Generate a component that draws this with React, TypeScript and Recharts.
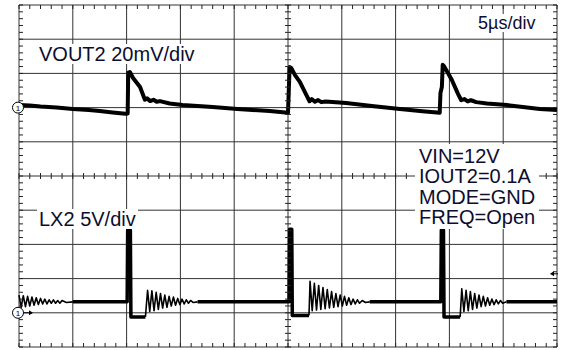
import React from "react";
import { ComposedChart, Line, Scatter, XAxis, YAxis, ReferenceLine } from "recharts";

// 5 us/div, 10 divisions across
const timeGrid = [0, 5, 10, 15, 20, 25, 30, 35, 40, 45, 50];
const divGrid = [0, 1, 2, 3, 4, 5, 6, 7, 8, 9, 10];

// VOUT2 ripple, [time us, mV], 20mV/div, ground marker at div 7
const vout2Points: [number, number][] = [
  [0, 1.5], [1, 1.2], [2, 0.6], [3.5, 0.1], [5, -0.8], [6.5, -1.4], [7.5, -2.0], [8.7, -2.8], [9.9, -3.6], [10.1, -3.4],
  [10.15, 20.5], [10.3, 20.8], [10.6, 17.3], [11.25, 12.0], [11.7, 4.6], [11.9, 5.4], [12.2, 3.8], [12.5, 4.6],
  [12.8, 3.4], [13.1, 3.8], [14, 2.4], [15.2, 1.5],
  [18, 0.4], [20.3, -0.8], [23.3, -2.0], [25.0, -3.0],
  [25.15, 23.7], [25.3, 23.2], [25.65, 19.0], [26.1, 15.0], [26.7, 7.4], [27.0, 3.7], [27.2, 5.0], [27.5, 3.4],
  [27.8, 4.4], [28.1, 3.2], [28.5, 3.6], [30.4, 2.7],
  [33, 0.8], [35.4, -0.8], [37.5, -2.1], [39.1, -3.0],
  [39.17, 8.6], [39.3, 12.0], [39.38, 25.0], [39.5, 24.2], [39.8, 21.0], [40.24, 16.0], [40.8, 8.0], [41.1, 4.3],
  [41.4, 5.0], [41.7, 3.6], [42.0, 4.3], [42.5, 3.2], [43.5, 2.4], [45.35, 1.5], [48.4, -0.8], [50, -1.4],
];

// LX2 switch node, [time us, V], 5V/div, ground marker at div 1
const lx2RingStart: [number, number][] = [
  [0, 2.6], [0.2, 0.8], [0.4, 2.5], [0.6, 0.9], [0.8, 2.4], [1.0, 1.0], [1.2, 2.3], [1.4, 1.1], [1.6, 2.2], [1.8, 1.2],
  [2.0, 2.1], [2.2, 1.3], [2.4, 2.0], [2.6, 1.3], [2.8, 1.9], [3.0, 1.4], [3.2, 1.9], [3.4, 1.4], [3.6, 1.8], [3.8, 1.4],
  [4.0, 1.8], [4.4, 1.5], [5, 1.6],
];
const lx2Switch1: [number, number][] = [
  [5, 1.6], [10.05, 1.6], [10.1, 12.1], [10.35, 12.1], [10.4, -0.6], [11.75, -0.6],
];
const lx2Ring1: [number, number][] = [
  [11.75, -0.6], [11.95, 3.3], [12.15, 0.2], [12.35, 3.2], [12.55, 0.3], [12.75, 3.0], [12.95, 0.5], [13.15, 2.8],
  [13.35, 0.7], [13.55, 2.6], [13.75, 0.8], [13.95, 2.4], [14.15, 1.0], [14.35, 2.3], [14.55, 1.1], [14.75, 2.1],
  [14.95, 1.2], [15.15, 2.0], [15.35, 1.3], [15.55, 1.9], [15.75, 1.4], [15.95, 1.8], [16.2, 1.5], [16.6, 1.6],
];
const lx2Switch2: [number, number][] = [
  [16.6, 1.6], [25.1, 1.6], [25.15, 12.2], [25.35, 12.2], [25.4, -0.4], [26.95, -0.4],
];
const lx2Ring2: [number, number][] = [
  [26.95, -0.4], [27.05, 4.6], [27.25, 0.3], [27.45, 4.3], [27.65, 0.4], [27.85, 4.0], [28.05, 0.5], [28.25, 3.7],
  [28.45, 0.6], [28.65, 3.4], [28.85, 0.7], [29.05, 3.1], [29.25, 0.8], [29.45, 2.8], [29.65, 0.9], [29.85, 2.6],
  [30.05, 1.0], [30.25, 2.4], [30.45, 1.1], [30.65, 2.2], [30.85, 1.2], [31.05, 2.0], [31.25, 1.3], [31.45, 1.9],
  [31.65, 1.4], [31.9, 1.8], [32.2, 1.5], [32.6, 1.6],
];
const lx2Switch3: [number, number][] = [
  [32.6, 1.6], [39.2, 1.6], [39.25, 12.1], [39.45, 12.1], [39.5, -0.6], [41.0, -0.6],
];
const lx2Ring3: [number, number][] = [
  [41.0, -0.6], [41.15, 3.5], [41.35, 0.2], [41.55, 3.3], [41.75, 0.3], [41.95, 3.1], [42.15, 0.5], [42.35, 2.8],
  [42.55, 0.7], [42.75, 2.6], [42.95, 0.9], [43.15, 2.4], [43.35, 1.0], [43.55, 2.2], [43.75, 1.1], [43.95, 2.0],
  [44.15, 1.2], [44.35, 1.9], [44.55, 1.3], [44.75, 1.8], [44.95, 1.4], [45.3, 1.6],
];
const lx2Idle: [number, number][] = [
  [45.3, 1.6], [50, 1.6],
];

const voutLabel = "VOUT2 20mV/div";
const lxLabel = "LX2 5V/div";
const scaleLabel = "5\u00b5s/div";
const conditions = ["VIN=12V", "IOUT2=0.1A", "MODE=GND", "FREQ=Open"];
const triggerLevel = 5.7; // V on LX2

const vout2Data = vout2Points.map(([t, mv]) => ({ t, mv }));
const toLx = (pts: [number, number][]) => pts.map(([t, v]) => ({ t, v }));
// thick = flat / switching parts (noisy band), thin = ringing
const lx2Parts = [
  { key: "r0", data: toLx(lx2RingStart), thick: false },
  { key: "s1", data: toLx(lx2Switch1), thick: true },
  { key: "r1", data: toLx(lx2Ring1), thick: false },
  { key: "s2", data: toLx(lx2Switch2), thick: true },
  { key: "r2", data: toLx(lx2Ring2), thick: false },
  { key: "s3", data: toLx(lx2Switch3), thick: true },
  { key: "r3", data: toLx(lx2Ring3), thick: false },
  { key: "s4", data: toLx(lx2Idle), thick: true },
];

// minor ticks every 0.2 div on the border and on the centre cross
const minorTicks: { t: number; d: number; kind: string }[] = [];
for (let i = 0; i <= 50; i++) {
  minorTicks.push({ t: i, d: 10, kind: "top" });
  minorTicks.push({ t: i, d: 0, kind: "bottom" });
  minorTicks.push({ t: i, d: 5, kind: "ch" });
  minorTicks.push({ t: 0, d: i * 0.2, kind: "left" });
  minorTicks.push({ t: 50, d: i * 0.2, kind: "right" });
  minorTicks.push({ t: 25, d: i * 0.2, kind: "cv" });
}

const TickMark = (props: any) => {
  const { cx, cy, payload } = props;
  const k = payload.kind;
  let p = [cx, cy, cx, cy];
  if (k === "top") p = [cx, cy, cx, cy + 4];
  if (k === "bottom") p = [cx, cy - 4, cx, cy];
  if (k === "ch") p = [cx, cy - 3, cx, cy + 3];
  if (k === "left") p = [cx, cy, cx + 4, cy];
  if (k === "right") p = [cx - 4, cy, cx, cy];
  if (k === "cv") p = [cx - 3, cy, cx + 3, cy];
  return <line x1={p[0]} y1={p[1]} x2={p[2]} y2={p[3]} stroke="#222" strokeWidth={1} />;
};

const GroundMarker = (props: any) => {
  const { cx, cy, payload } = props;
  return (
    <g>
      {payload.arrow && (
        <g>
          <line x1={cx + 4} y1={cy} x2={cx + 13} y2={cy} stroke="#000" strokeWidth={1} />
          <path d={`M${cx + 14},${cy} L${cx + 10},${cy - 2.5} L${cx + 10},${cy + 2.5} Z`} fill="#000" />
        </g>
      )}
      <circle cx={cx - 1} cy={cy} r={5.5} fill="#fff" stroke="#000" strokeWidth={1} />
      <text x={cx - 1} y={cy + 3} fontSize={8} textAnchor="middle" fontFamily="Liberation Sans, Arial" fill="#000">
        1
      </text>
    </g>
  );
};

const TriggerMark = (props: any) => {
  const { cx, cy } = props;
  return (
    <g>
      <line x1={cx - 6} y1={cy} x2={cx + 1} y2={cy} stroke="#000" strokeWidth={1} />
      <path d={`M${cx - 7},${cy} L${cx - 3},${cy - 2.5} L${cx - 3},${cy + 2.5} Z`} fill="#000" />
    </g>
  );
};

const textStyle: React.CSSProperties = {
  position: "absolute",
  fontFamily: "'Liberation Sans', Arial, sans-serif",
  color: "#0d0d2e",
  background: "#fff",
  whiteSpace: "pre",
};

export default function App() {
  return (
    <div style={{ position: "absolute", left: 0, top: 0, width: 561, height: 350, background: "#fff" }}>
      <ComposedChart width={561} height={350} margin={{ top: 5, right: 4, bottom: 3, left: 19 }}>
        <XAxis xAxisId="t" dataKey="t" type="number" domain={[0, 50]} hide />
        <YAxis yAxisId="div" type="number" domain={[0, 10]} hide />
        <YAxis yAxisId="v" type="number" domain={[-140, 60]} hide />
        <YAxis yAxisId="lx" type="number" domain={[-5, 45]} hide />
        {timeGrid.map((t) => (
          <ReferenceLine key={"x" + t} xAxisId="t" yAxisId="div" x={t} stroke="#333" strokeWidth={1} />
        ))}
        {divGrid.map((d) => (
          <ReferenceLine key={"y" + d} xAxisId="t" yAxisId="div" y={d} stroke="#333" strokeWidth={1} />
        ))}
        <Scatter
          xAxisId="t"
          yAxisId="div"
          data={minorTicks}
          dataKey="d"
          shape={TickMark}
          isAnimationActive={false}
        />
        <Line
          xAxisId="t"
          yAxisId="v"
          data={vout2Data}
          dataKey="mv"
          type="linear"
          stroke="#000"
          strokeWidth={4}
          strokeLinejoin="round"
          dot={false}
          isAnimationActive={false}
        />
        {lx2Parts.map((p) => (
          <Line
            key={p.key}
            xAxisId="t"
            yAxisId="lx"
            data={p.data}
            dataKey="v"
            type="linear"
            stroke="#000"
            strokeWidth={p.thick ? 3.5 : 1.6}
            strokeLinejoin="round"
            dot={false}
            isAnimationActive={false}
          />
        ))}
        <Scatter
          xAxisId="t"
          yAxisId="v"
          data={[{ t: 0, mv: 0, arrow: false }]}
          dataKey="mv"
          shape={GroundMarker}
          isAnimationActive={false}
        />
        <Scatter
          xAxisId="t"
          yAxisId="lx"
          data={[{ t: 0, v: 0, arrow: true }]}
          dataKey="v"
          shape={GroundMarker}
          isAnimationActive={false}
        />
        <Scatter
          xAxisId="t"
          yAxisId="lx"
          data={[{ t: 50, v: triggerLevel }]}
          dataKey="v"
          shape={TriggerMark}
          isAnimationActive={false}
        />
      </ComposedChart>
      <div style={{ ...textStyle, left: 37, top: 44, fontSize: 20, lineHeight: "20px", padding: "0 2px" }}>{voutLabel}</div>
      <div style={{ ...textStyle, left: 37, top: 209, fontSize: 20, lineHeight: "20px", padding: "0 2px" }}>{lxLabel}</div>
      <div style={{ ...textStyle, left: 476, top: 14, fontSize: 18, lineHeight: "18px", padding: "0 2px" }}>{scaleLabel}</div>
      <div style={{ ...textStyle, left: 415, top: 144, fontSize: 20, lineHeight: "20.3px", padding: "2px 4px" }}>
        {conditions.map((c) => (
          <div key={c}>{c}</div>
        ))}
      </div>
    </div>
  );
}
